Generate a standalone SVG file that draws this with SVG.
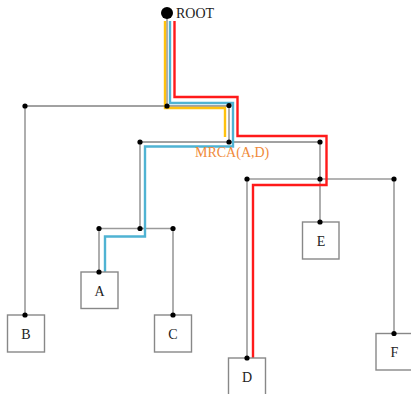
<svg xmlns="http://www.w3.org/2000/svg" width="411" height="394" viewBox="0 0 411 394">
<defs>
<style>
.edge{fill:none;stroke:#9a9a9a;stroke-width:1.6}
.edge2{fill:none;stroke:#444;stroke-width:1}
.dot{fill:#000}
.box{fill:#fff;stroke:#888;stroke-width:1.4}
.lbl{font-family:"Liberation Serif","Times New Roman",serif;font-size:14px;fill:#222;text-anchor:middle}
.yel{fill:none;stroke:#FFC20E;stroke-width:2.4}
.blu{fill:none;stroke:#4FB3D3;stroke-width:2.4}
.red{fill:none;stroke:#FF1A1A;stroke-width:2.4}
</style>
</defs>
<rect width="411" height="394" fill="#fff"/>
<g id="connectors">
<path class="edge" d="M167,13V106"/>
<path class="edge2" d="M25,106H229"/>
<path class="edge" d="M25,106V315"/>
<path class="edge" d="M229,106V142"/>
<path class="edge2" d="M140,142H320"/>
<path class="edge" d="M140,142V228.5"/>
<path class="edge" d="M99,228.5H173"/>
<path class="edge" d="M99,228.5V272"/>
<path class="edge" d="M173,228.5V315"/>
<path class="edge" d="M320,142V179"/>
<path class="edge" d="M247,179H394"/>
<path class="edge" d="M320,179V222"/>
<path class="edge" d="M247,179V358"/>
<path class="edge" d="M394,179V333"/>
</g>
<g id="paths">
<path class="yel" d="M165,21V108H225V137"/>
<path class="blu" d="M170,21V103H233V146.5H145V236.5H105V272"/>
<path class="red" d="M174.5,21V97H237.5V136H326.5V185H253V358"/>
</g>
<g id="root">
<circle cx="167" cy="13" r="6" fill="#000"/>
<text x="176" y="17.5" class="lbl" style="text-anchor:start">ROOT</text>
</g>
<g id="dots">
<circle class="dot" cx="167" cy="106" r="2.6"/>
<circle class="dot" cx="229" cy="105.5" r="2.6"/>
<circle class="dot" cx="25" cy="106" r="2.6"/>
<circle class="dot" cx="229" cy="142" r="2.6"/>
<circle class="dot" cx="140" cy="142" r="2.6"/>
<circle class="dot" cx="320" cy="142" r="2.6"/>
<circle class="dot" cx="99" cy="228.5" r="2.6"/>
<circle class="dot" cx="140" cy="228.5" r="2.6"/>
<circle class="dot" cx="173" cy="228.5" r="2.6"/>
<circle class="dot" cx="247" cy="179" r="2.6"/>
<circle class="dot" cx="320" cy="179" r="2.6"/>
<circle class="dot" cx="394" cy="179" r="2.6"/>
</g>
<g id="mrca">
<text x="195" y="157" class="lbl" style="text-anchor:start;fill:#F08A3A">MRCA(A,D)</text>
</g>
<g id="node-A">
<rect class="box" x="81" y="272" width="37" height="36.5"/>
<circle class="dot" cx="99" cy="272" r="2.6"/>
<text class="lbl" x="99.5" y="295.5">A</text>
</g>
<g id="node-B">
<rect class="box" x="7.5" y="315" width="37" height="37"/>
<circle class="dot" cx="25" cy="315" r="2.6"/>
<text class="lbl" x="26" y="338.5">B</text>
</g>
<g id="node-C">
<rect class="box" x="154.5" y="315" width="37" height="37"/>
<circle class="dot" cx="173" cy="315" r="2.6"/>
<text class="lbl" x="173" y="338.5">C</text>
</g>
<g id="node-D">
<rect class="box" x="228.5" y="358" width="37" height="37"/>
<circle class="dot" cx="247" cy="358" r="2.6"/>
<text class="lbl" x="247" y="381.5">D</text>
</g>
<g id="node-E">
<rect class="box" x="302.5" y="222" width="36.5" height="37"/>
<circle class="dot" cx="320" cy="222" r="2.6"/>
<text class="lbl" x="321" y="245.5">E</text>
</g>
<g id="node-F">
<rect class="box" x="376" y="333.5" width="37" height="36.5"/>
<circle class="dot" cx="394" cy="333.5" r="2.6"/>
<text class="lbl" x="394.5" y="357">F</text>
</g>
</svg>
